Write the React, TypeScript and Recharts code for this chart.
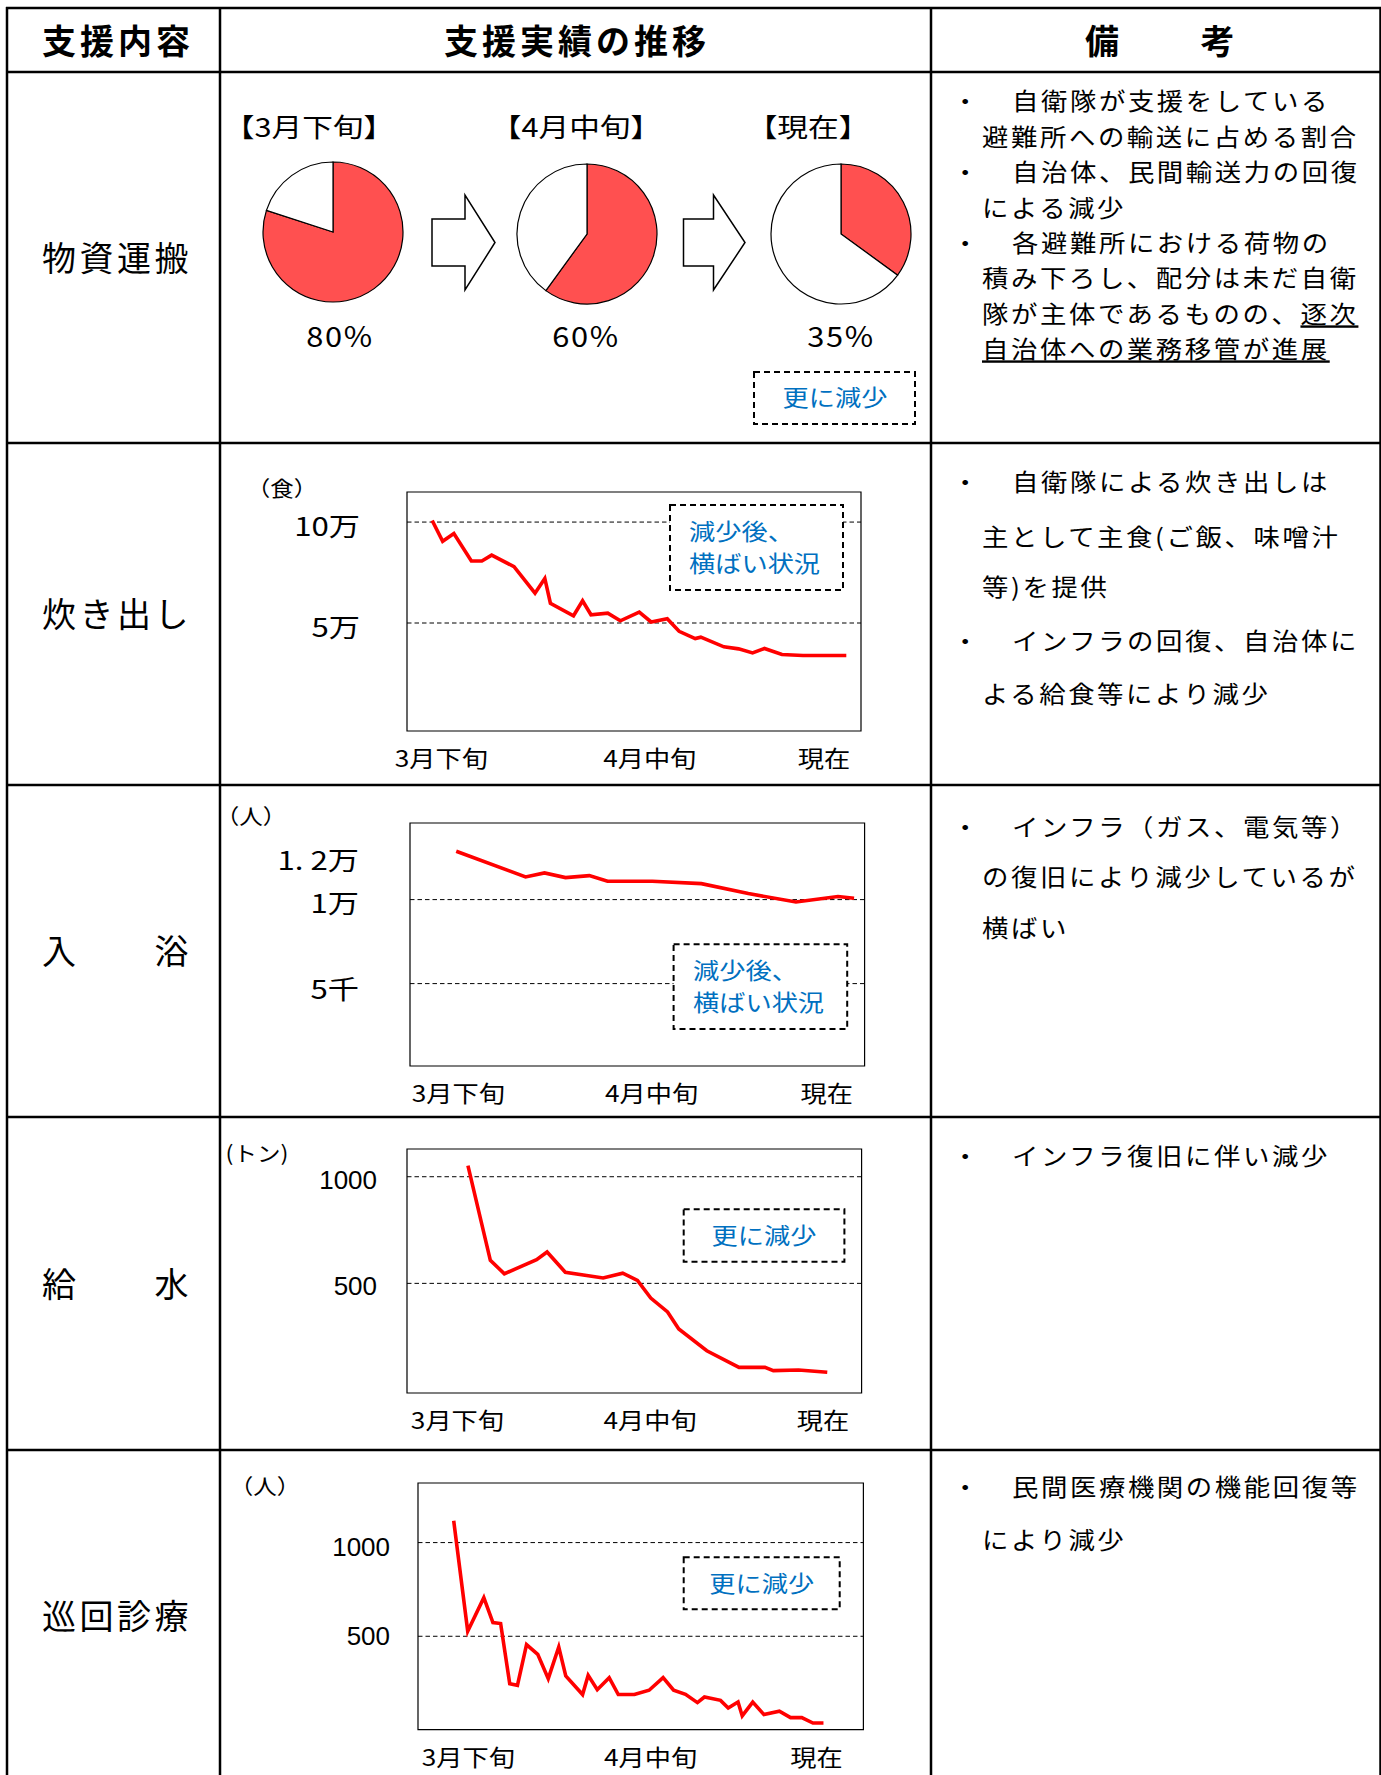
import React from 'react';
import { PieChart, Pie, Cell, LineChart, Line, XAxis, YAxis, ReferenceLine, ReferenceArea } from 'recharts';

// ---------------- data ----------------
const PIE_LABELS = ['【3月下旬】', '【4月中旬】', '【現在】'];
const PIE_SHARES = [80, 60, 35];

const X_LABELS = ['3月下旬', '4月中旬', '現在'];

// 炊き出し (食)
const MEAL_DAYS = [3.6, 5.1, 6.7, 9.2, 10.7, 12.1, 15.3, 18.3, 19.7, 20.5, 23.8, 25.1, 26.3, 28.7, 30.5, 33.2, 34.9, 37.2, 38.9, 41.2, 42.0, 45.3, 47.4, 49.4, 51.1, 53.6, 56.6, 62.8];
const MEAL_VALUES = [100800, 90500, 94300, 80700, 80700, 83600, 77900, 64800, 72100, 59800, 53600, 61000, 54100, 54900, 51100, 55400, 50500, 52100, 45900, 42300, 43000, 38200, 37200, 35200, 37400, 34400, 33900, 33900];
const MEAL_X_TICKS = [4.9, 34.7, 59.6];
const MEAL_Y_TICKS = [50000, 100000];
const MEAL_Y_LABELS = ['5万', '10万'];

// 入浴 (人)
const BATH_DAYS = [6.6, 16.5, 19.2, 22.2, 25.6, 28.2, 34.6, 41.6, 48.3, 55.1, 61.1, 63.4];
const BATH_VALUES = [12880, 11350, 11590, 11310, 11430, 11090, 11090, 10950, 10360, 9860, 10180, 10080];
const BATH_X_TICKS = [6.9, 34.5, 59.5];
const BATH_Y_TICKS = [5000, 10000, 12000];
const BATH_Y_LABELS = ['5千', '1万', '1. 2万'];
const BATH_GRID = [5000, 10000];

// 給水 (トン)
const WATER_DAYS = [8.7, 11.9, 13.9, 18.5, 20.0, 22.6, 28.0, 30.8, 32.9, 34.8, 37.2, 38.8, 42.8, 47.4, 51.1, 52.3, 55.9, 60.0];
const WATER_VALUES = [1052, 608, 545, 611, 647, 552, 525, 548, 514, 431, 366, 286, 184, 106, 106, 91, 94, 83];
const WATER_X_TICKS = [7.2, 34.7, 59.4];
const WATER_Y_TICKS = [500, 1000];
const WATER_Y_LABELS = ['500', '1000'];

// 巡回診療 (人)
const MED_DAYS = [5.1, 7.1, 9.4, 10.7, 11.8, 13.1, 14.2, 15.5, 17.1, 18.6, 20.1, 21.1, 23.5, 24.3, 25.6, 27.3, 28.6, 30.9, 33.0, 35.0, 36.5, 38.2, 39.9, 40.9, 43.2, 44.3, 45.7, 46.3, 47.8, 49.4, 51.6, 53.2, 54.8, 56.4, 57.9];
const MED_VALUES = [1116, 527, 706, 573, 568, 247, 238, 456, 404, 274, 443, 288, 189, 292, 215, 279, 189, 189, 212, 279, 212, 190, 146, 176, 158, 117, 149, 75, 149, 82, 100, 66, 66, 37, 37];
const MED_X_TICKS = [7.2, 33.2, 56.9];
const MED_Y_TICKS = [500, 1000];
const MED_Y_LABELS = ['500', '1000'];

const ROW_LABELS = ['物資運搬', '炊き出し', '入　　浴', '給　　水', '巡回診療'];

const NOTES = [
  { y: 102, bullet: true, text: '自衛隊が支援をしている' },
  { y: 137.5, text: '避難所への輸送に占める割合' },
  { y: 173, bullet: true, text: '自治体、民間輸送力の回復' },
  { y: 209, text: 'による減少' },
  { y: 243.5, bullet: true, text: '各避難所における荷物の' },
  { y: 279, text: '積み下ろし、配分は未だ自衛' },
  { y: 315, text: '隊が主体であるものの、', u: '逐次' },
  { y: 350, text: '', u: '自治体への業務移管が進展' },
  { y: 483, bullet: true, text: '自衛隊による炊き出しは' },
  { y: 538, text: '主として主食(ご飯、味噌汁' },
  { y: 588, text: '等)を提供' },
  { y: 642, bullet: true, text: 'インフラの回復、自治体に' },
  { y: 695, text: 'よる給食等により減少' },
  { y: 828, bullet: true, text: 'インフラ（ガス、電気等）' },
  { y: 878, text: 'の復旧により減少しているが' },
  { y: 929, text: '横ばい' },
  { y: 1157, bullet: true, text: 'インフラ復旧に伴い減少' },
  { y: 1488, bullet: true, text: '民間医療機関の機能回復等' },
  { y: 1541, text: 'により減少' },
];

// ---------------- styles ----------------
const JP = "'Noto Sans CJK JP', 'Noto Sans', sans-serif";
const LAT = "'Liberation Sans', Arial, sans-serif";
const RED = '#FF5050';
const LINE_RED = '#FF0000';
const BLUE = '#0070C0';
const BASE_SHIFT = -2;

type STextProps = {
  x: number; y: number; children: React.ReactNode; size?: number; sx?: number;
  anchor?: 'start' | 'middle' | 'end'; ls?: number; weight?: number; fill?: string; family?: string;
};

function SText({ x, y, children, size = 22, sx = 1, anchor = 'start', ls = 0, weight = 400, fill = '#000', family = JP }: STextProps) {
  return (
    <text
      transform={`translate(${x},${y + BASE_SHIFT}) scale(${sx},1)`}
      fontSize={size}
      textAnchor={anchor}
      dominantBaseline="central"
      fontWeight={weight}
      fill={fill}
      fontFamily={family}
      style={{ letterSpacing: ls }}
    >
      {children}
    </text>
  );
}

type Box = { l: number; t: number; w: number; h: number };

type PanelProps = {
  box: Box; days: number[]; values: number[]; xMax: number; yDomain: [number, number];
  yTicks: number[]; yLabels: string[]; grid: number[]; xTicks: number[]; yGap: number;
  latin?: boolean; yDy?: number[];
};

function Panel({ box, days, values, xMax, yDomain, yTicks, yLabels, grid, xTicks, yGap, latin, yDy }: PanelProps) {
  const PADL = 200, PADT = 60, PADR = 20, PADB = 50;
  const data = days.map((d, i) => ({ d, v: values[i] }));
  const XTick = (p: any) => (
    <g>
      <SText x={p.x} y={p.y + 28} anchor="middle" size={23} sx={1.14}>{X_LABELS[p.index]}</SText>
    </g>
  );
  const YTick = (p: any) => {
    const i = yTicks.indexOf(p.payload.value);
    const dy = yDy ? yDy[i] : 5;
    return (
      <g>
        {latin ? (
          <SText x={p.x} y={p.y + dy} anchor="end" size={26} family={LAT}>{yLabels[i]}</SText>
        ) : (
          <SText x={p.x} y={p.y + dy} anchor="end" size={26} sx={1.2}>{yLabels[i]}</SText>
        )}
      </g>
    );
  };
  return (
    <div style={{ position: 'absolute', left: box.l - PADL, top: box.t - PADT }}>
      <LineChart
        width={box.w + PADL + PADR}
        height={box.h + PADT + PADB}
        data={data}
        margin={{ top: PADT, right: PADR, bottom: 0, left: 0 }}
      >
        <XAxis dataKey="d" type="number" domain={[0, xMax]} ticks={xTicks} interval={0}
          tickLine={false} axisLine={false} tickSize={0} tickMargin={0} height={PADB} tick={XTick} allowDataOverflow />
        <YAxis type="number" domain={yDomain} ticks={yTicks} interval={0}
          tickLine={false} axisLine={false} tickSize={0} tickMargin={yGap} width={PADL} tick={YTick} allowDataOverflow />
        <ReferenceArea x1={0} x2={xMax} y1={yDomain[0]} y2={yDomain[1]} fill="none" stroke="#000" strokeWidth={1.2} />
        {grid.map((g) => (
          <ReferenceLine key={g} y={g} stroke="#000" strokeWidth={1} strokeDasharray="4.5 3" />
        ))}
        <Line dataKey="v" type="linear" stroke={LINE_RED} strokeWidth={3.6} dot={false} isAnimationActive={false} />
      </LineChart>
    </div>
  );
}

function DashBox({ x, y, w, h }: { x: number; y: number; w: number; h: number }) {
  return <rect x={x} y={y} width={w} height={h} fill="#fff" stroke="#000" strokeWidth={2} strokeDasharray="6 4" />;
}

function Arrow({ x0, head, tip, yc }: { x0: number; head: number; tip: number; yc: number }) {
  const pts = [
    [x0, yc - 23.5], [head, yc - 23.5], [head, yc - 47.5], [tip, yc], [head, yc + 47.5], [head, yc + 23.5], [x0, yc + 23.5],
  ].map((p) => p.join(',')).join(' ');
  return <polygon points={pts} fill="#fff" stroke="#000" strokeWidth={1.5} />;
}

export default function App() {
  const pieCx = [111, 365, 619];
  const pieCy = [158, 160, 160];
  const rowLabelY = [258, 614, 951, 1284, 1616];
  const pieLabelX = [309, 576, 808];
  const pctX = [340, 586, 841];

  return (
    <div style={{ position: 'absolute', left: 0, top: 0, width: 1381, height: 1775, background: '#fff', overflow: 'hidden' }}>
      {/* pies */}
      <div style={{ position: 'absolute', left: 222, top: 74 }}>
        <PieChart width={706} height={368} margin={{ top: 0, right: 0, bottom: 0, left: 0 }}>
          {PIE_SHARES.map((s, i) => (
            <Pie
              key={i}
              data={[{ name: '自衛隊', value: s }, { name: 'その他', value: 100 - s }]}
              dataKey="value"
              cx={pieCx[i]}
              cy={pieCy[i]}
              outerRadius={70}
              innerRadius={0}
              startAngle={90}
              endAngle={-270}
              stroke="#000"
              strokeWidth={1.2}
              isAnimationActive={false}
            >
              <Cell fill={RED} />
              <Cell fill="#fff" />
            </Pie>
          ))}
        </PieChart>
      </div>

      <Panel box={{ l: 407, t: 492, w: 454, h: 239 }} days={MEAL_DAYS} values={MEAL_VALUES} xMax={64.9}
        yDomain={[-3500, 114900]} yTicks={MEAL_Y_TICKS} yLabels={MEAL_Y_LABELS} grid={MEAL_Y_TICKS}
        xTicks={MEAL_X_TICKS} yGap={47} />
      <Panel box={{ l: 409.6, t: 822.7, w: 454.6, h: 243 }} days={BATH_DAYS} values={BATH_VALUES} xMax={64.9}
        yDomain={[95, 14560]} yTicks={BATH_Y_TICKS} yLabels={BATH_Y_LABELS} grid={BATH_GRID}
        xTicks={BATH_X_TICKS} yGap={51} yDy={[6, 4, -5]} />
      <Panel box={{ l: 407.3, t: 1149.3, w: 454.6, h: 244 }} days={WATER_DAYS} values={WATER_VALUES} xMax={64.9}
        yDomain={[-14, 1130]} yTicks={WATER_Y_TICKS} yLabels={WATER_Y_LABELS} grid={WATER_Y_TICKS}
        xTicks={WATER_X_TICKS} yGap={30} latin yDy={[5, 5]} />
      <Panel box={{ l: 418.3, t: 1482.7, w: 445.4, h: 246.6 }} days={MED_DAYS} values={MED_VALUES} xMax={63.6}
        yDomain={[2, 1318]} yTicks={MED_Y_TICKS} yLabels={MED_Y_LABELS} grid={MED_Y_TICKS}
        xTicks={MED_X_TICKS} yGap={28} latin yDy={[2, 6]} />

      <svg width={1381} height={1775} style={{ position: 'absolute', left: 0, top: 0, pointerEvents: 'none' }}>
        {/* table frame */}
        <g stroke="#000" strokeWidth={2.5}>
          {[8, 72, 443, 785, 1117, 1450].map((y) => (
            <line key={y} x1={6} x2={1381} y1={y} y2={y} />
          ))}
          {[7, 220, 931, 1380.5].map((x) => (
            <line key={x} x1={x} x2={x} y1={7} y2={1775} />
          ))}
        </g>

        {/* header */}
        <SText x={42} y={41} size={34} weight={700} ls={4}>支援内容</SText>
        <SText x={577} y={41} anchor="middle" size={34} weight={700} ls={4}>支援実績の推移</SText>
        <SText x={1085} y={41} size={34} weight={700} ls={4.5}>備　　考</SText>

        {/* row labels */}
        {ROW_LABELS.map((t, i) => (
          <SText key={t} x={42} y={rowLabelY[i]} size={34} ls={3.5}>{t}</SText>
        ))}

        {/* pie labels */}
        {PIE_LABELS.map((t, i) => (
          <SText key={t} x={pieLabelX[i]} y={128} anchor="middle" size={26} sx={1.18}>{t}</SText>
        ))}
        {PIE_SHARES.map((s, i) => (
          <SText key={i} x={pctX[i]} y={337} anchor="middle" size={28} sx={1.1} ls={1.5}>{`${s}%`}</SText>
        ))}
        <Arrow x0={432} head={465} tip={495} yc={242.5} />
        <Arrow x0={683.5} head={713.5} tip={745} yc={242.5} />
        <DashBox x={754} y={372} w={161} h={52} />
        <SText x={835} y={398} anchor="middle" size={23} sx={1.14} fill={BLUE}>更に減少</SText>

        {/* unit labels */}
        <SText x={282} y={489} anchor="middle" size={21} sx={1.12}>（食）</SText>
        <SText x={251} y={817} anchor="middle" size={21} sx={1.12}>（人）</SText>
        <SText x={257} y={1154} anchor="middle" size={21} sx={1.12}>(トン)</SText>
        <SText x={265} y={1487} anchor="middle" size={21} sx={1.12}>（人）</SText>

        {/* chart annotation boxes */}
        <DashBox x={670} y={505} w={173} h={85} />
        <SText x={689} y={532} size={23} sx={1.14} fill={BLUE}>減少後、</SText>
        <SText x={689} y={564} size={23} sx={1.14} fill={BLUE}>横ばい状況</SText>

        <DashBox x={673.6} y={944.3} w={173.6} h={84.7} />
        <SText x={693} y={970.7} size={23} sx={1.14} fill={BLUE}>減少後、</SText>
        <SText x={693} y={1002.7} size={23} sx={1.14} fill={BLUE}>横ばい状況</SText>

        <DashBox x={683.7} y={1209.3} w={160.7} h={52.4} />
        <SText x={764} y={1235.7} anchor="middle" size={23} sx={1.14} fill={BLUE}>更に減少</SText>

        <DashBox x={683.7} y={1557.3} w={156} h={52} />
        <SText x={761.8} y={1583.3} anchor="middle" size={23} sx={1.14} fill={BLUE}>更に減少</SText>

        {/* notes */}
        {NOTES.map((n, i) => (
          <g key={i}>
            {n.bullet && <SText x={952} y={n.y} size={24} sx={1.1}>・</SText>}
            <text
              transform={`translate(${n.bullet ? 1012 : 982},${n.y + BASE_SHIFT}) scale(1.1,1)`}
              fontSize={24}
              dominantBaseline="central"
              fontFamily={JP}
              fill="#000"
              style={{ letterSpacing: 2.35 }}
            >
              {n.text}
              {n.u && <tspan style={{ textDecoration: 'underline' }}>{n.u}</tspan>}
            </text>
          </g>
        ))}
      </svg>
    </div>
  );
}
